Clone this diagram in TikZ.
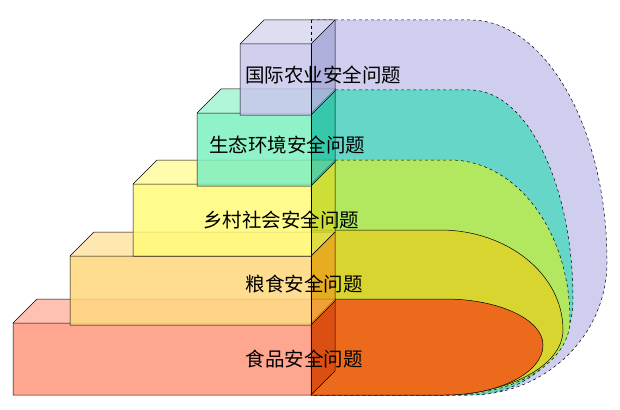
\documentclass[tikz,border=0pt]{standalone}
\usepackage{fontspec}
\newfontfamily\cjk{Noto Sans CJK SC}
\definecolor{lav}{RGB}{208,206,238}
\definecolor{teal2}{RGB}{102,214,200}
\definecolor{grn}{RGB}{178,232,96}
\definecolor{olv}{RGB}{216,213,48}
\definecolor{org}{RGB}{236,106,28}
\definecolor{f1}{RGB}{255,150,125}
\definecolor{s1}{RGB}{215,70,15}
\definecolor{f2}{RGB}{255,215,125}
\definecolor{s2}{RGB}{235,160,30}
\definecolor{f3}{RGB}{255,250,120}
\definecolor{s3}{RGB}{215,220,40}
\definecolor{f4}{RGB}{125,240,190}
\definecolor{s4}{RGB}{40,195,160}
\definecolor{f5}{RGB}{200,200,235}
\definecolor{s5}{RGB}{165,165,215}
\newcommand\levelbox[5]{% xl, yt, yb, front, side
  \fill[#4, fill opacity=0.85] (#1,#2) rectangle (311,#3);
  \fill[#4!70!white, fill opacity=0.85] (#1,#2) -- (#1+24,#2-24) -- (335,#2-24) -- (311,#2) -- cycle;
  \fill[#5, fill opacity=0.75] (311,#2) -- (335,#2-24) -- (335,#3-24) -- (311,#3) -- cycle;
  \draw[edge] (#1,#3) -- (#1,#2) -- (#1+24,#2-24) -- (335,#2-24) -- (335,#3-24) -- (311,#3) -- cycle;
  \draw[edge] (#1,#2) -- (311,#2) -- (335,#2-24);
  \draw[edge] (311,#2) -- (311,#3);
}
\newcommand\halfshape[6]{% top, xs, R, ymid, style, color
  \filldraw[fill=#6, #5] (311,#1) -- (#2,#1) arc[start angle=-90, end angle=0, x radius=#3-#2, y radius=#4-#1]
    arc[start angle=0, end angle=90, x radius=#3-#2, y radius=395-#4] -- (311,395) -- cycle;
}
\begin{document}
\begin{tikzpicture}[x=1pt,y=-1pt, edge/.style={draw=black, line width=0.5pt},
  lbl/.style={font=\cjk\fontsize{19.5}{21}\selectfont, text=black}]
\useasboundingbox (0,0) rectangle (620,409);
\halfshape{20}{470}{607}{262}{dashed, line width=0.5pt}{lav}
\halfshape{90}{470}{573}{300}{dashed, line width=0.5pt}{teal2}
\halfshape{160}{450}{570}{320}{dashed, line width=0.5pt}{grn}
\halfshape{230}{440}{563}{330}{line width=0.5pt}{olv}
\halfshape{299}{445}{543}{345}{line width=0.5pt}{org}
\levelbox{13}{323}{395}{f1}{s1}
\levelbox{70}{256}{325}{f2}{s2}
\levelbox{133}{184}{256}{f3}{s3}
\levelbox{197}{113}{186}{f4}{s4}
\levelbox{240}{44}{115}{f5}{s5}
\draw[dashed, line width=0.4pt] (311,20) -- (311,44);
\node[lbl] (l1) at (304,359) {食品安全问题};
\node[lbl] (l2) at (304,284) {粮食安全问题};
\node[lbl] (l3) at (281,220) {乡村社会安全问题};
\node[lbl] (l4) at (287,145) {生态环境安全问题};
\node[lbl] (l5) at (323,75) {国际农业安全问题};
\end{tikzpicture}
\end{document}
